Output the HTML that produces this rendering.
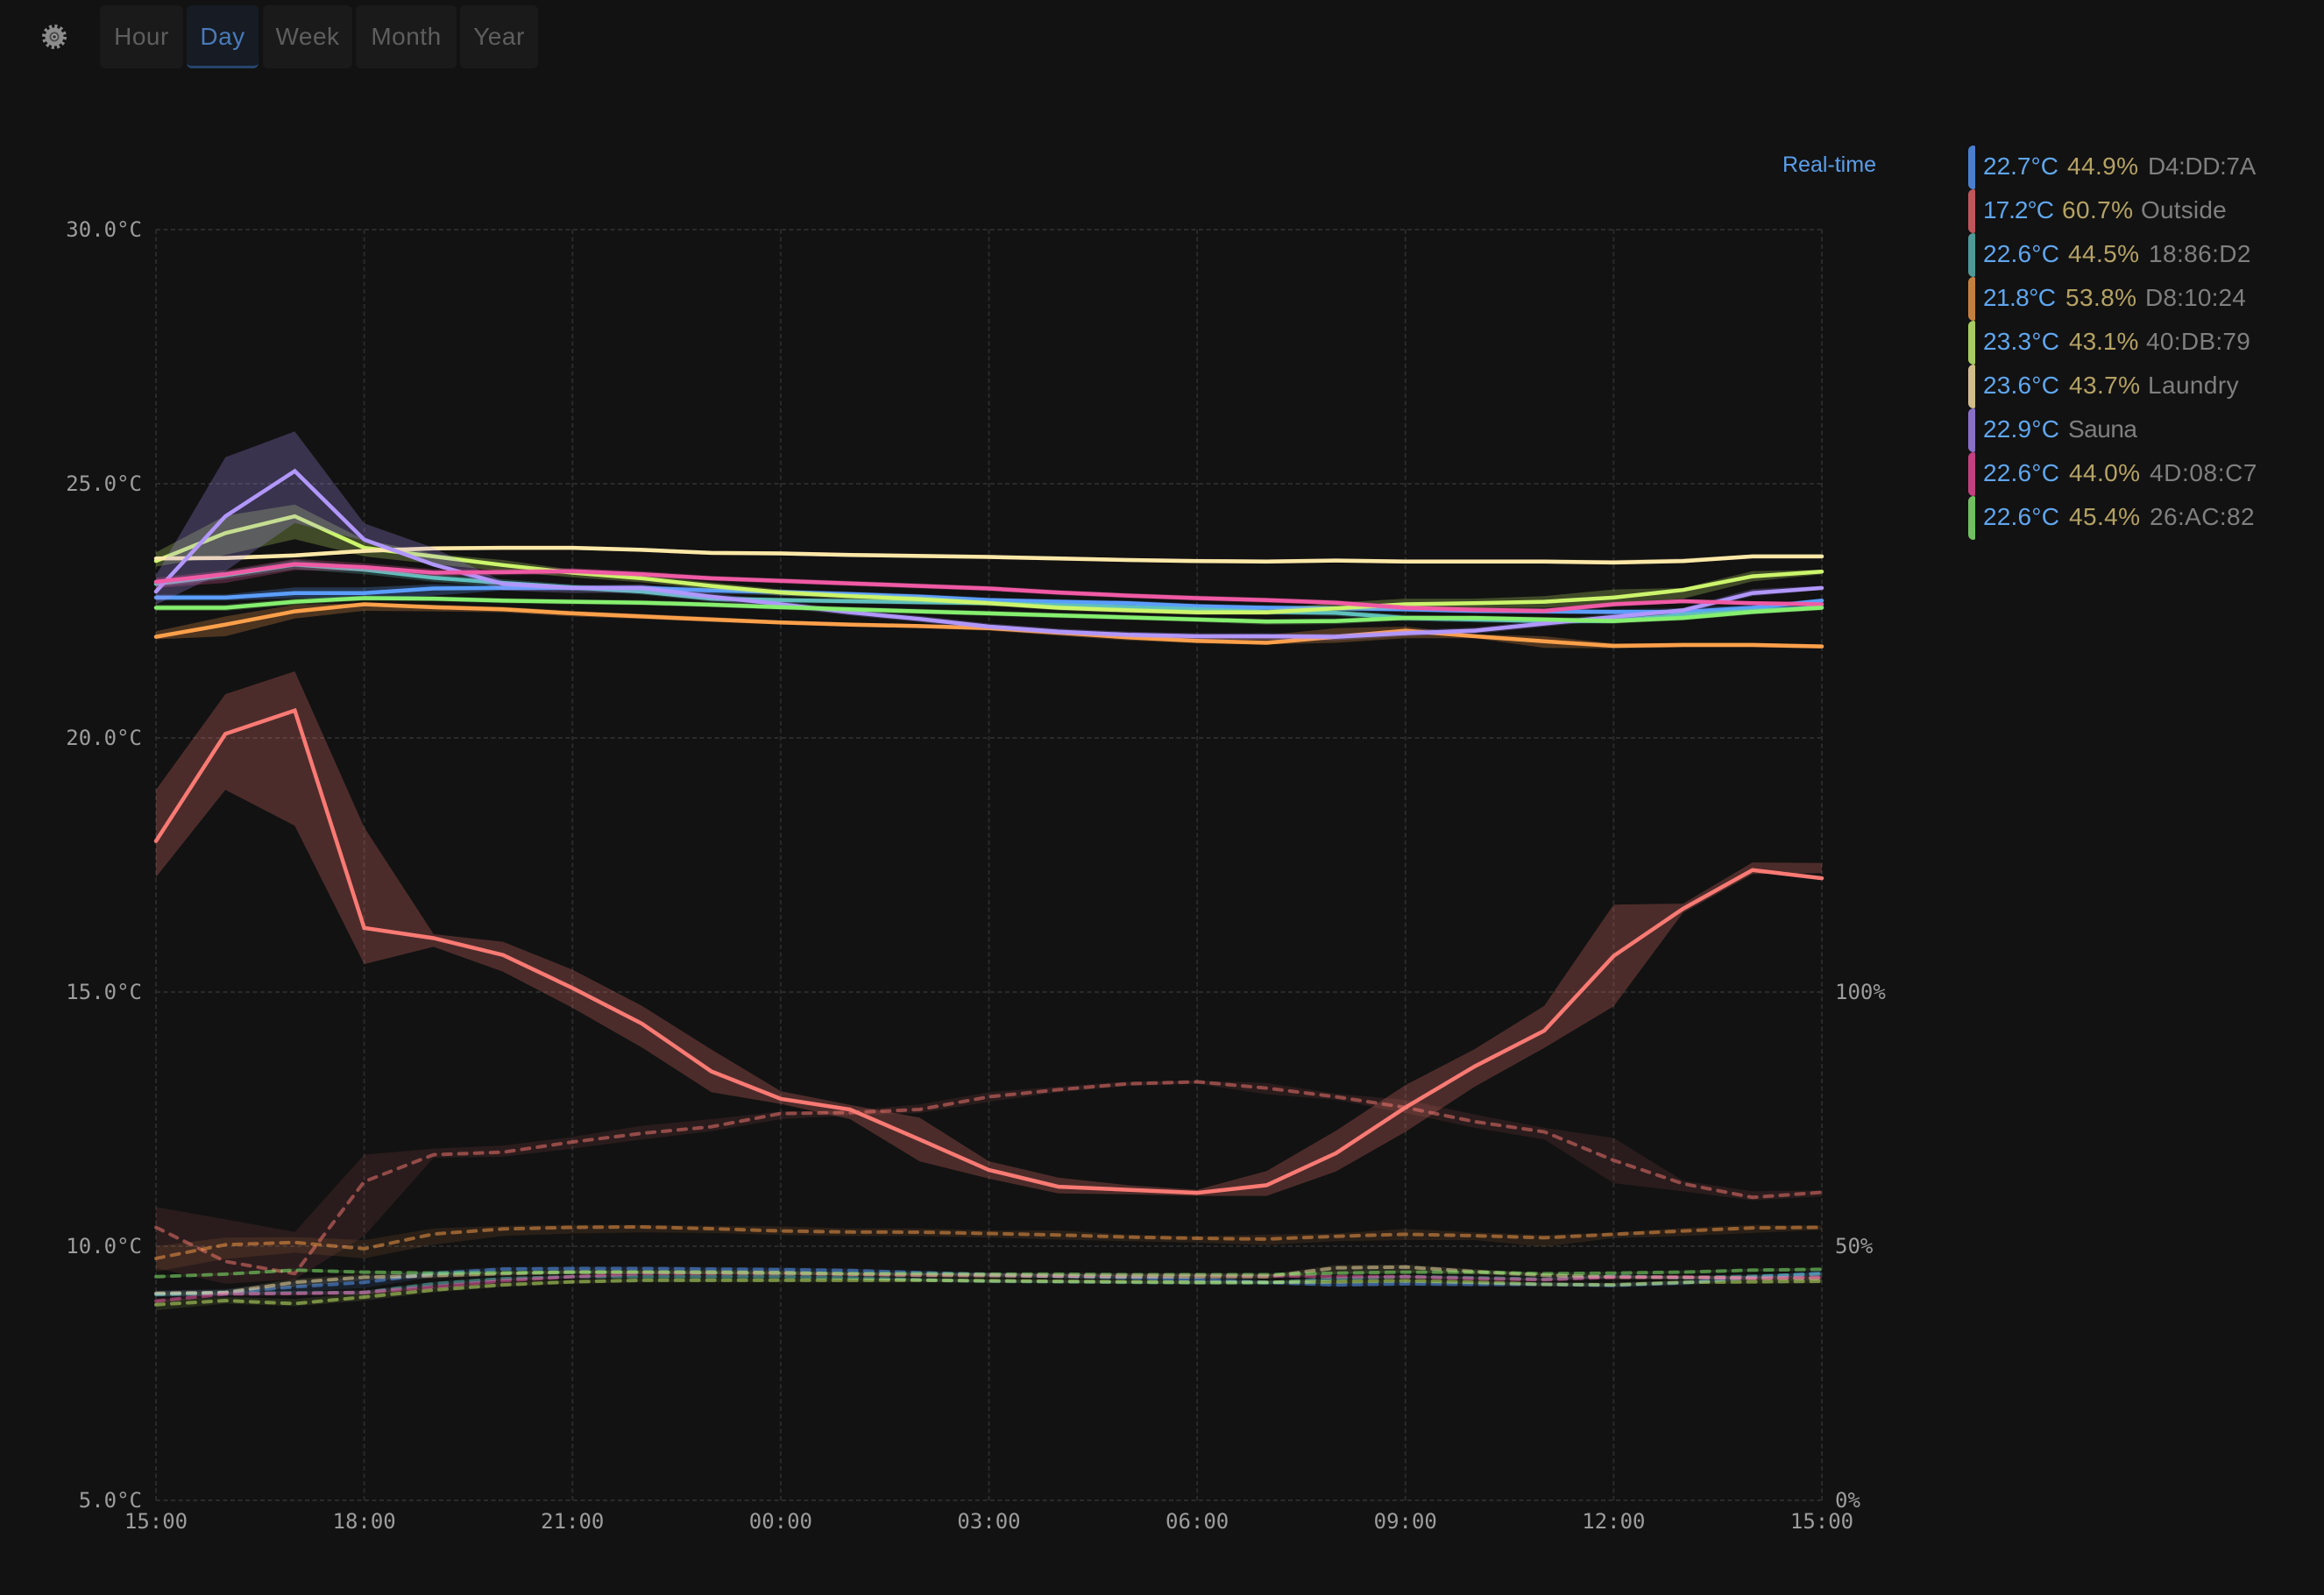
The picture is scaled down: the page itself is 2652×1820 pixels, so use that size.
<!DOCTYPE html>
<html lang="en">
<head>
<meta charset="utf-8">
<title>Sensor chart</title>
<style>
html,body{margin:0;padding:0;background:#121212;width:2652px;height:1820px;overflow:hidden}
body{position:relative;font-family:"Liberation Sans",sans-serif}
#chart{position:absolute;left:0;top:0}
.tab{position:absolute;top:6px;height:72px;line-height:72px;background:#1a1a1a;border-radius:6px;text-align:center;font-size:28px;letter-spacing:.5px;color:#5e5e5e;box-sizing:border-box}
.tab.on{background:#161b24;color:#4a7ab8;border-bottom:3px solid #27456e}
#realtime{position:absolute;left:2034px;top:172px;font-size:25px;line-height:32px;color:#5b9ee8}
.row{position:absolute;left:2246px;width:400px;height:50px}
.bar{position:absolute;left:0;top:0;width:8px;height:50px;border-radius:6px 2px 2px 6px}
.txt{position:absolute;left:0;top:6px;font-size:28px;line-height:36px;white-space:nowrap}
.txt span{position:absolute;top:0}
.t{color:#5fa6ef;left:17px}.h{color:#b5a264;letter-spacing:.4px}.n{color:#7f7f7f}
</style>
</head>
<body>
<svg id="chart" width="2652" height="1820" xmlns="http://www.w3.org/2000/svg"></svg>

<svg id="gear" style="position:absolute;left:44px;top:24px" width="36" height="36" viewBox="0 0 36 36">
  <circle cx="18" cy="18" r="12" fill="none" stroke="#8c8c8c" stroke-width="4" stroke-dasharray="3.14 3.14"/>
  <circle cx="18" cy="18" r="10.5" fill="#8c8c8c"/>
  <circle cx="18" cy="18" r="5.5" fill="#4a4a4a"/>
  <circle cx="18" cy="18" r="3.6" fill="#a0a0a0"/>
  <circle cx="18" cy="18" r="1.8" fill="#333"/>
</svg>
<div class="tab" style="left:114px;width:95px">Hour</div>
<div class="tab on" style="left:213px;width:82px">Day</div>
<div class="tab" style="left:300px;width:102px">Week</div>
<div class="tab" style="left:406px;width:115px">Month</div>
<div class="tab" style="left:525px;width:89px">Year</div>
<div id="realtime">Real-time</div>

<div class="row" style="top:166px"><div class="bar" style="background:#4a7fd0"></div><div class="txt"><span class="t">22.7°C</span><span class="h" style="left:113px">44.9%</span><span class="n" style="left:205px;letter-spacing:-.4px">D4:DD:7A</span></div></div>
<div class="row" style="top:216px"><div class="bar" style="background:#c0565a"></div><div class="txt"><span class="t" style="letter-spacing:-1px">17.2°C</span><span class="h" style="left:107px">60.7%</span><span class="n" style="left:197px;letter-spacing:.2px">Outside</span></div></div>
<div class="row" style="top:266px"><div class="bar" style="background:#4e9a98"></div><div class="txt"><span class="t" style="letter-spacing:.2px">22.6°C</span><span class="h" style="left:114px">44.5%</span><span class="n" style="left:206px;letter-spacing:.4px">18:86:D2</span></div></div>
<div class="row" style="top:316px"><div class="bar" style="background:#c5803e"></div><div class="txt"><span class="t" style="letter-spacing:-.6px">21.8°C</span><span class="h" style="left:111px">53.8%</span><span class="n" style="left:202px;letter-spacing:.17px">D8:10:24</span></div></div>
<div class="row" style="top:366px"><div class="bar" style="background:#a8cc60"></div><div class="txt"><span class="t" style="letter-spacing:.2px">23.3°C</span><span class="h" style="left:115px;letter-spacing:0">43.1%</span><span class="n" style="left:203px;letter-spacing:.3px">40:DB:79</span></div></div>
<div class="row" style="top:416px"><div class="bar" style="background:#d1bd8a"></div><div class="txt"><span class="t" style="letter-spacing:.2px">23.6°C</span><span class="h" style="left:115px">43.7%</span><span class="n" style="left:205px;letter-spacing:.4px">Laundry</span></div></div>
<div class="row" style="top:466px"><div class="bar" style="background:#8a70c8"></div><div class="txt"><span class="t" style="letter-spacing:.2px">22.9°C</span><span class="n" style="left:114px;letter-spacing:-.5px">Sauna</span></div></div>
<div class="row" style="top:516px"><div class="bar" style="background:#c44080"></div><div class="txt"><span class="t" style="letter-spacing:.2px">22.6°C</span><span class="h" style="left:115px">44.0%</span><span class="n" style="left:207px;letter-spacing:.6px">4D:08:C7</span></div></div>
<div class="row" style="top:566px"><div class="bar" style="background:#70c060"></div><div class="txt"><span class="t" style="letter-spacing:.2px">22.6°C</span><span class="h" style="left:115px">45.4%</span><span class="n" style="left:207px;letter-spacing:.4px">26:AC:82</span></div></div>

<script>
const hours = [0,1,2,3,4,5,6,7,8,9,10,11,12,13,14,15,16,17,18,19,20,21,22,23,24];
const xTickLabels = ["15:00","18:00","21:00","00:00","03:00","06:00","09:00","12:00","15:00"];
const xTickHours = [0,3,6,9,12,15,18,21,24];
const tempTicks = [5,10,15,20,25,30];
const humTicks = [0,50,100];

const tempBlue   = [22.76,22.76,22.85,22.85,22.94,22.95,22.95,22.95,22.90,22.87,22.83,22.78,22.71,22.68,22.65,22.59,22.56,22.55,22.53,22.50,22.49,22.48,22.48,22.56,22.70];
const tempBlueLo = [22.70,22.70,22.75,22.74,22.80,22.90,22.90,22.90,22.84,22.80,22.77,22.72,22.66,22.63,22.60,22.54,22.51,22.50,22.48,22.45,22.44,22.43,22.43,22.48,22.64];
const tempBlueHi = [22.82,22.82,22.96,22.96,23.02,23.00,23.00,23.00,22.96,22.92,22.88,22.83,22.76,22.73,22.70,22.64,22.61,22.60,22.58,22.55,22.54,22.53,22.55,22.62,22.74];

const tempRed   = [17.97,20.08,20.54,16.26,16.06,15.73,15.08,14.38,13.44,12.90,12.69,12.10,11.50,11.17,11.11,11.05,11.20,11.83,12.73,13.54,14.24,15.71,16.64,17.40,17.24];
const tempRedLo = [17.26,18.98,18.27,15.55,15.89,15.40,14.69,13.91,13.03,12.80,12.50,11.67,11.33,11.04,11.02,10.99,10.99,11.47,12.25,13.14,13.90,14.72,16.56,17.32,17.34];
const tempRedHi = [18.98,20.86,21.31,18.24,16.14,15.99,15.44,14.73,13.87,13.05,12.78,12.53,11.67,11.35,11.20,11.11,11.48,12.27,13.17,13.88,14.73,16.72,16.74,17.55,17.54];

const tempTeal   = [23.03,23.20,23.41,23.31,23.15,23.05,22.96,22.88,22.74,22.71,22.69,22.67,22.65,22.61,22.57,22.53,22.48,22.46,22.36,22.33,22.30,22.30,22.42,22.50,22.57];
const tempTealLo = [22.97,23.12,23.32,23.22,23.07,22.97,22.90,22.82,22.68,22.66,22.64,22.62,22.60,22.56,22.52,22.48,22.43,22.40,22.30,22.27,22.25,22.25,22.36,22.44,22.53];
const tempTealHi = [23.10,23.27,23.50,23.38,23.22,23.12,23.02,22.94,22.80,22.76,22.74,22.72,22.70,22.66,22.62,22.58,22.53,22.52,22.42,22.39,22.35,22.35,22.48,22.56,22.61];

const tempOrange   = [21.99,22.23,22.49,22.63,22.57,22.53,22.45,22.39,22.33,22.27,22.23,22.20,22.16,22.07,21.98,21.91,21.87,21.99,22.11,22.00,21.90,21.81,21.83,21.83,21.80];
const tempOrangeLo = [21.94,22.00,22.35,22.50,22.49,22.47,22.39,22.34,22.28,22.23,22.19,22.16,22.11,22.01,21.92,21.86,21.84,21.87,21.96,21.96,21.77,21.76,21.78,21.78,21.76];
const tempOrangeHi = [22.10,22.39,22.62,22.65,22.62,22.58,22.50,22.44,22.38,22.31,22.27,22.24,22.20,22.11,22.02,21.96,22.02,22.16,22.19,22.04,22.00,21.86,21.87,21.87,21.84];

const tempLime   = [23.48,24.03,24.36,23.74,23.57,23.40,23.25,23.14,22.99,22.86,22.79,22.73,22.65,22.56,22.51,22.47,22.47,22.55,22.63,22.65,22.68,22.76,22.91,23.18,23.27];
const tempLimeLo = [23.37,23.60,23.91,23.57,23.42,23.28,23.16,23.06,22.92,22.80,22.73,22.67,22.60,22.51,22.46,22.42,22.42,22.50,22.53,22.56,22.56,22.65,22.74,23.08,23.22];
const tempLimeHi = [23.65,24.37,24.59,23.90,23.62,23.50,23.31,23.20,23.06,22.92,22.84,22.79,22.70,22.61,22.56,22.52,22.52,22.66,22.74,22.74,22.79,22.92,22.95,23.28,23.31];

const tempCream   = [23.53,23.54,23.59,23.68,23.73,23.74,23.74,23.70,23.64,23.63,23.60,23.58,23.56,23.53,23.50,23.48,23.47,23.49,23.47,23.47,23.47,23.45,23.48,23.57,23.57];
const tempCreamLo = [23.49,23.50,23.55,23.64,23.69,23.70,23.70,23.66,23.60,23.59,23.56,23.54,23.52,23.49,23.46,23.44,23.43,23.45,23.43,23.43,23.43,23.41,23.44,23.53,23.53];
const tempCreamHi = [23.57,23.58,23.63,23.72,23.77,23.78,23.78,23.74,23.68,23.67,23.64,23.62,23.60,23.57,23.54,23.52,23.51,23.53,23.51,23.51,23.51,23.50,23.53,23.61,23.61];

const tempPurple   = [22.88,24.36,25.25,23.90,23.41,23.03,22.95,22.95,22.78,22.63,22.47,22.34,22.19,22.09,22.03,22.00,22.00,21.99,22.06,22.11,22.25,22.38,22.51,22.85,22.95];
const tempPurpleLo = [22.62,23.28,24.23,23.88,23.40,22.90,22.85,22.86,22.70,22.56,22.41,22.28,22.13,22.03,21.97,21.94,21.93,21.92,22.00,22.05,22.19,22.32,22.46,22.79,22.91];
const tempPurpleHi = [23.20,25.52,26.03,24.22,23.74,23.08,23.00,23.02,22.85,22.69,22.53,22.40,22.25,22.15,22.09,22.06,22.06,22.05,22.12,22.17,22.31,22.44,22.56,22.93,22.99];

const tempPink   = [23.07,23.22,23.42,23.36,23.25,23.26,23.28,23.22,23.14,23.09,23.04,22.99,22.94,22.86,22.80,22.75,22.71,22.66,22.56,22.52,22.50,22.63,22.69,22.65,22.63];
const tempPinkLo = [22.95,23.05,23.30,23.28,23.18,23.20,23.22,23.17,23.09,23.04,22.99,22.94,22.89,22.81,22.75,22.70,22.66,22.61,22.51,22.47,22.45,22.58,22.65,22.61,22.59];
const tempPinkHi = [23.15,23.30,23.52,23.44,23.32,23.32,23.34,23.28,23.19,23.14,23.09,23.04,22.99,22.91,22.85,22.80,22.76,22.71,22.61,22.57,22.55,22.68,22.73,22.69,22.67];

const tempGreen   = [22.56,22.56,22.68,22.75,22.74,22.70,22.68,22.66,22.62,22.57,22.53,22.49,22.45,22.41,22.37,22.33,22.29,22.30,22.36,22.36,22.33,22.30,22.36,22.48,22.56];
const tempGreenLo = [22.50,22.50,22.62,22.70,22.69,22.65,22.63,22.61,22.57,22.52,22.48,22.44,22.40,22.36,22.32,22.28,22.23,22.24,22.31,22.31,22.28,22.25,22.31,22.43,22.51];
const tempGreenHi = [22.62,22.62,22.74,22.80,22.79,22.75,22.73,22.71,22.67,22.62,22.58,22.54,22.50,22.46,22.42,22.38,22.34,22.35,22.41,22.41,22.38,22.35,22.41,22.53,22.61];

const humBlue   = [40.6,40.9,42.0,42.9,44.6,45.5,45.6,45.6,45.5,45.4,45.2,44.8,44.4,44.1,43.8,43.4,42.9,42.4,42.6,42.5,42.5,42.3,42.8,43.9,44.7];
const humBlueLo = [40.0,40.3,41.0,41.8,43.9,45.1,45.2,45.2,45.1,45.0,44.8,44.4,44.0,43.7,43.4,43.0,42.5,42.0,42.2,42.1,42.1,41.9,42.3,43.5,44.3];
const humBlueHi = [41.3,41.6,43.0,44.0,45.2,45.9,46.0,46.0,45.9,45.8,45.6,45.2,44.8,44.5,44.2,43.8,43.3,42.8,43.0,42.9,42.9,42.7,43.3,44.3,45.1];

const humRed   = [53.7,47.0,44.6,62.7,68.0,68.5,70.5,72.2,73.5,76.1,76.3,76.9,79.4,80.8,81.95,82.35,81.1,79.4,77.3,74.5,72.5,66.9,62.3,59.6,60.6];
const humRedLo = [45.7,42.6,43.5,52.0,67.4,67.6,69.2,71.0,72.6,75.0,75.7,76.2,78.4,80.3,81.5,81.95,79.9,78.8,76.2,73.3,71.0,62.4,60.8,59.0,59.8];
const humRedHi = [57.7,55.3,52.8,68.0,69.2,69.8,71.5,73.7,75.0,76.5,76.7,77.9,80.3,81.4,82.4,82.6,82.1,80.0,78.8,75.9,73.3,71.3,62.9,60.8,61.0];

const humTeal   = [40.5,40.7,40.8,40.9,42.6,43.6,44.0,44.0,44.0,44.0,43.8,43.4,43.1,43.0,42.9,42.8,42.8,43.6,44.0,43.8,43.5,44.1,43.8,44.1,44.5];
const humTealLo = [40.1,40.3,40.4,40.5,42.2,43.2,43.7,43.7,43.7,43.7,43.5,43.1,42.8,42.7,42.6,42.5,42.5,43.3,43.7,43.5,43.2,43.8,43.5,43.8,44.2];
const humTealHi = [40.9,41.1,41.2,41.3,43.0,44.0,44.3,44.3,44.3,44.3,44.1,43.7,43.4,43.3,43.2,43.1,43.1,43.9,44.3,44.1,43.8,44.4,44.1,44.4,44.8];

const humOrange   = [47.6,50.3,50.75,49.5,52.4,53.4,53.7,53.8,53.45,53.0,52.8,52.75,52.5,52.2,51.8,51.55,51.4,51.95,52.35,52.07,51.65,52.35,53.0,53.6,53.7];
const humOrangeLo = [45.0,47.5,48.7,47.6,50.3,52.0,52.5,52.7,52.6,52.2,52.0,52.0,51.7,51.3,51.0,50.7,50.2,51.0,51.2,51.2,49.9,51.6,52.0,52.6,53.2];
const humOrangeHi = [50.0,51.7,51.8,51.2,53.5,54.0,54.2,54.2,54.0,53.9,53.5,53.5,53.1,53.1,52.3,52.0,52.3,52.5,53.4,52.7,52.2,52.7,53.6,54.2,54.1];

const humLime   = [38.5,39.3,38.7,40.0,41.4,42.4,43.0,43.3,43.3,43.3,43.3,43.3,43.2,43.1,43.0,42.9,42.9,43.0,43.2,42.9,42.5,42.4,42.9,43.0,43.1];
const humLimeLo = [37.4,38.7,38.2,39.3,40.9,42.0,42.6,42.9,42.9,42.9,42.9,42.9,42.8,42.7,42.6,42.5,42.5,42.6,42.8,42.5,42.1,42.0,42.5,42.6,42.7];
const humLimeHi = [39.4,40.0,39.6,40.8,42.0,42.9,43.4,43.7,43.7,43.7,43.7,43.7,43.6,43.5,43.4,43.3,43.3,43.4,43.6,43.3,42.9,42.8,43.3,43.4,43.5];

const humCream   = [40.75,40.9,42.9,43.9,44.2,44.6,44.9,44.9,44.9,44.8,44.5,44.3,44.2,44.1,44.0,44.0,44.0,45.75,45.9,45.0,44.3,43.9,43.9,43.7,43.7];
const humCreamLo = [40.2,40.4,42.0,43.3,43.7,44.2,44.5,44.5,44.5,44.4,44.1,43.9,43.8,43.7,43.6,43.6,43.6,44.5,44.9,44.4,43.9,43.5,43.5,43.3,43.3];
const humCreamHi = [41.2,41.4,43.6,44.5,44.7,45.0,45.3,45.3,45.3,45.2,44.9,44.7,44.6,44.5,44.4,44.4,44.4,46.3,46.4,45.5,44.7,44.3,44.3,44.1,44.1];

const humPink   = [39.2,40.6,40.7,40.9,42.0,43.2,44.0,44.6,44.6,44.6,44.5,44.4,44.4,44.3,44.3,44.3,44.2,44.0,44.0,43.6,43.4,43.9,43.9,43.7,43.9];
const humPinkLo = [38.8,40.2,40.3,40.5,41.6,42.8,43.7,44.3,44.3,44.3,44.2,44.1,44.1,44.0,44.0,44.0,43.9,43.7,43.7,43.3,43.1,43.6,43.6,43.4,43.6];
const humPinkHi = [39.6,41.0,41.1,41.3,42.4,43.6,44.3,44.9,44.9,44.9,44.8,44.7,44.7,44.6,44.6,44.6,44.5,44.3,44.3,43.9,43.7,44.2,44.2,44.0,44.2];

const humGreen   = [44.0,44.5,45.3,44.9,44.7,44.8,44.9,44.9,44.8,44.7,44.6,44.6,44.5,44.5,44.4,44.4,44.4,44.7,44.9,44.9,44.6,44.7,44.9,45.3,45.45];
const humGreenLo = [43.7,44.2,45.0,44.6,44.4,44.5,44.6,44.6,44.5,44.4,44.3,44.3,44.2,44.2,44.1,44.1,44.1,44.4,44.6,44.6,44.3,44.4,44.6,45.0,45.15];
const humGreenHi = [44.3,44.8,45.6,45.2,45.0,45.1,45.2,45.2,45.1,45.0,44.9,44.9,44.8,44.8,44.7,44.7,44.7,45.0,45.2,45.2,44.9,45.0,45.2,45.6,45.75];

const seriesNames = ["d4-dd-7a","outside","18-86-d2","d8-10-24","40-db-79","laundry","sauna","4d-08-c7","26-ac-82"];
const seriesColors = ["#5b9eff","#fb7a74","#5fc0bc","#ffa04a","#ccf56c","#fde8a8","#b197ff","#f05aa5","#86ef6f"];
const tempMeans = [tempBlue,tempRed,tempTeal,tempOrange,tempLime,tempCream,tempPurple,tempPink,tempGreen];
const tempLows = [tempBlueLo,tempRedLo,tempTealLo,tempOrangeLo,tempLimeLo,tempCreamLo,tempPurpleLo,tempPinkLo,tempGreenLo];
const tempHighs = [tempBlueHi,tempRedHi,tempTealHi,tempOrangeHi,tempLimeHi,tempCreamHi,tempPurpleHi,tempPinkHi,tempGreenHi];
const humMeans = [humBlue,humRed,humTeal,humOrange,humLime,humCream,null,humPink,humGreen];
const humLows = [humBlueLo,humRedLo,humTealLo,humOrangeLo,humLimeLo,humCreamLo,null,humPinkLo,humGreenLo];
const humHighs = [humBlueHi,humRedHi,humTealHi,humOrangeHi,humLimeHi,humCreamHi,null,humPinkHi,humGreenHi];

const plotLeft = 178, plotRight = 2079, plotTop = 262, plotBottom = 1712;
function xAxis(h){ return plotLeft + (plotRight - plotLeft) * h / 24; }
function yTemp(t){ return plotBottom - (t - 5) * (plotBottom - plotTop) / 25; }
function yHum(p){ return plotBottom - p * (plotBottom - plotTop) / 250; }

const svg = document.getElementById('chart');
const NS = 'http://www.w3.org/2000/svg';
function make(tag, attrs, parent){
  const el = document.createElementNS(NS, tag);
  for (const k in attrs) el.setAttribute(k, attrs[k]);
  (parent || svg).appendChild(el);
  return el;
}
function linePath(arr, yf){
  return hours.map(function(h,i){ return (i ? 'L' : 'M') + xAxis(h).toFixed(1) + ' ' + yf(arr[i]).toFixed(1); }).join('');
}
function bandPath(lo, hi, yf){
  let d = linePath(hi, yf);
  for (let i = hours.length - 1; i >= 0; i--) d += 'L' + xAxis(hours[i]).toFixed(1) + ' ' + yf(lo[i]).toFixed(1);
  return d + 'Z';
}
const gridStyle = {stroke:'#2a2a2a','stroke-width':2,'stroke-dasharray':'5 3.5',fill:'none'};
const axisStyle = {fill:'#9c9c9c','font-family':'"DejaVu Sans Mono",monospace','font-size':24};

tempTicks.forEach(function(t){
  const g = make('line', Object.assign({x1:plotLeft,x2:plotRight,y1:yTemp(t),y2:yTemp(t)}, gridStyle));
  
  
  const lab = make('text', Object.assign({x:162,y:yTemp(t)+8,'text-anchor':'end'}, axisStyle));
  lab.textContent = t.toFixed(1) + '°C';
  
  
});
xTickHours.forEach(function(h,i){
  const g = make('line', Object.assign({x1:xAxis(h),x2:xAxis(h),y1:plotTop,y2:plotBottom}, gridStyle));
  
  
  const lab = make('text', Object.assign({x:xAxis(h),y:1744,'text-anchor':'middle'}, axisStyle));
  lab.textContent = xTickLabels[i];
  
  
});
humTicks.forEach(function(p){
  const lab = make('text', Object.assign({x:2094,y:yHum(p)+8,'text-anchor':'start'}, axisStyle));
  lab.textContent = p + '%';
  
  
});

seriesNames.forEach(function(name,s){
  if (!humMeans[s]) return;
  const band = make('path', {d:bandPath(humLows[s],humHighs[s],yHum),fill:seriesColors[s],'fill-opacity':0.1});
  
  
  const line = make('path', {d:linePath(humMeans[s],yHum),fill:'none',stroke:seriesColors[s],'stroke-opacity':0.5,'stroke-width':4,'stroke-dasharray':'9 9','stroke-linecap':'round','stroke-linejoin':'round'});
  
  
});
seriesNames.forEach(function(name,s){
  const band = make('path', {d:bandPath(tempLows[s],tempHighs[s],yTemp),fill:seriesColors[s],'fill-opacity':0.25});
  
  
  const line = make('path', {d:linePath(tempMeans[s],yTemp),fill:'none',stroke:seriesColors[s],'stroke-width':4.5,'stroke-linecap':'round','stroke-linejoin':'miter'});
  
  
});
</script>
</body>
</html>
